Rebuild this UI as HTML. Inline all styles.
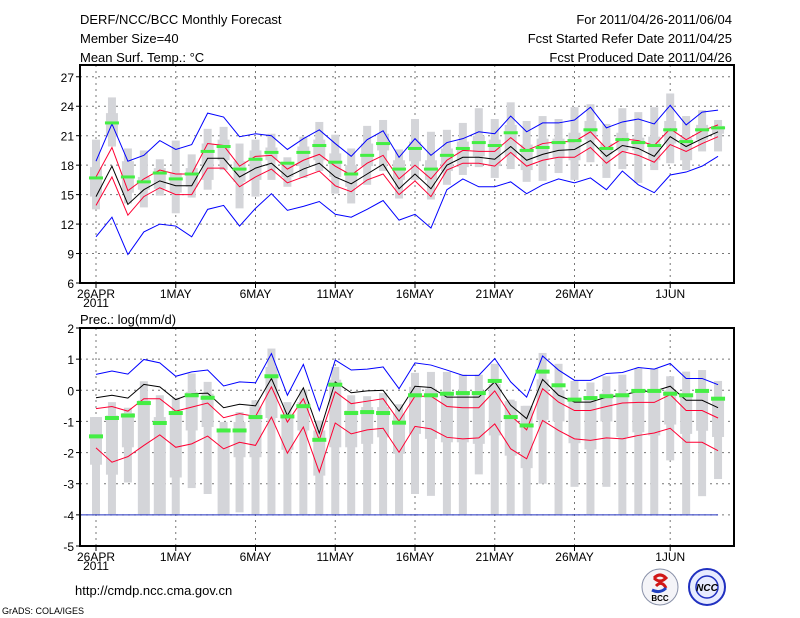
<!DOCTYPE html>
<html><head><meta charset="utf-8"><style>
html,body{margin:0;padding:0;background:#fff;width:800px;height:618px;overflow:hidden}
svg{display:block}
text{font-family:"Liberation Sans",sans-serif;fill:#000}
</style></head><body>
<svg id="chart" width="800" height="618" viewBox="0 0 800 618">
<text x="80" y="24" font-size="13">DERF/NCC/BCC Monthly Forecast</text>
<text x="80" y="43" font-size="13">Member Size=40</text>
<text x="80" y="62" font-size="13">Mean Surf. Temp.: °C</text>
<text x="732" y="24" font-size="13" text-anchor="end">For 2011/04/26-2011/06/04</text>
<text x="732" y="43" font-size="13" text-anchor="end">Fcst Started Refer Date 2011/04/25</text>
<text x="732" y="62" font-size="13" text-anchor="end">Fcst Produced Date 2011/04/26</text>
<text x="80" y="324" font-size="13">Prec.: log(mm/d)</text>
<text x="75" y="595" font-size="13">http://cmdp.ncc.cma.gov.cn</text>
<text x="2" y="614" font-size="9">GrADS: COLA/IGES</text>
<g>
<circle cx="660" cy="587" r="18" fill="#f4f4f8" stroke="#8890a8" stroke-width="1"/>
<path d="M654 578 q6 -6 12 0 q-6 6 -12 0 M656 586 q6 -6 10 2" fill="none" stroke="#d01818" stroke-width="3"/>
<path d="M652 590 q8 4 14 -2" fill="none" stroke="#2040c0" stroke-width="3"/>
<text x="660" y="601" font-size="8" text-anchor="middle" font-weight="bold" fill="#203080">BCC</text>
</g>
<g>
<circle cx="707" cy="587" r="18" fill="#e8ecff" stroke="#2030c0" stroke-width="2"/>
<circle cx="707" cy="587" r="11" fill="none" stroke="#2030c0" stroke-width="1.5"/>
<text x="707" y="591" font-size="10" text-anchor="middle" font-style="italic" font-weight="bold" fill="#1020b0">NCC</text>
</g>
<g id="top"></g>
<g id="bot"></g>
</svg>
<script>
const dayLabels = ["26APR","1MAY","6MAY","11MAY","16MAY","21MAY","26MAY","1JUN"];
const dayIdx = [0,5,10,15,20,25,30,36];
// Temperature
const tBlueHi=[18.4,22.2,18.4,19.0,20.5,19.6,20.1,23.3,22.9,20.9,21.2,21.0,19.6,20.7,21.6,20.2,18.9,20.6,21.5,18.8,20.7,19.0,20.3,20.7,21.4,21.2,23.0,21.4,22.3,22.3,22.6,23.9,21.8,22.4,22.7,22.2,24.1,22.1,23.4,23.6];
const tRedHi=[16.8,19.8,15.4,16.6,17.5,17.1,17.1,20.2,20.0,17.9,18.9,19.0,17.6,18.5,19.1,17.9,17.0,18.2,19.0,16.6,18.0,16.6,18.5,19.5,19.4,19.4,20.8,19.5,20.2,20.4,20.4,21.4,19.7,20.7,20.5,20.0,21.7,20.6,21.5,22.1];
const tMean=[14.8,17.9,14.0,15.5,16.4,15.9,15.9,18.7,18.7,16.8,17.7,18.2,16.8,17.6,18.2,16.8,16.1,17.1,18.1,15.6,17.1,15.6,18.0,18.8,18.8,18.6,19.9,18.5,19.1,19.5,19.6,20.5,18.9,20.0,19.7,18.9,20.9,19.9,20.7,21.4];
const tRedLo=[13.9,16.8,12.9,14.8,15.7,15.0,15.0,17.7,17.7,15.8,16.8,17.6,16.2,16.8,17.4,15.9,15.3,16.5,17.1,15.0,16.4,14.8,17.5,18.2,18.2,17.9,19.3,17.9,18.5,18.8,18.8,19.8,18.2,19.4,19.0,18.3,20.1,19.4,20.2,20.9];
const tBlueLo=[10.7,12.7,8.9,11.2,12.0,11.8,10.7,13.5,13.9,11.8,13.6,15.1,13.4,13.8,14.3,13.0,12.7,13.5,14.4,12.4,13.0,11.6,15.5,16.6,15.8,15.8,16.3,15.1,16.0,16.6,16.2,16.7,15.5,17.4,16.0,15.2,17.0,17.3,17.9,18.9];
const tObs=[16.7,22.3,16.8,16.3,17.2,16.6,17.1,19.4,19.9,17.6,18.6,19.3,18.2,19.3,20.0,18.3,17.1,19.0,20.2,17.6,19.7,17.6,19.0,19.7,20.3,20.0,21.3,19.5,19.8,20.3,20.5,21.6,19.7,20.6,20.3,20.0,21.6,20.4,21.6,21.8];
const tMin=[13.5,19.9,14.1,13.7,14.9,13.1,14.7,15.5,17.5,13.6,14.8,16.5,15.8,16.7,17.4,15.1,14.1,16.0,17.4,14.6,16.5,14.5,16.0,17.0,17.8,16.7,17.6,16.3,16.4,17.2,16.5,18.3,16.7,17.6,16.2,17.5,18.2,17.5,19.4,19.4];
const tQ1=[14.8,20.9,15.2,15.5,15.6,15.2,15.8,16.5,18.5,16.3,16.5,18.5,16.8,17.9,18.5,16.8,15.8,17.9,19.5,16.5,18.4,16.5,17.4,17.8,18.9,17.9,18.9,17.5,18.5,18.7,18.5,20.6,19.1,19.5,19.5,18.5,20.2,18.5,20.6,21.2];
const tQ3=[17.8,23.3,18.4,16.8,17.7,17.2,17.7,20.2,20.6,18.4,19.5,19.8,18.1,19.9,20.6,19.2,18.0,20.2,21.2,18.5,20.4,18.5,19.7,20.4,21.0,20.6,22.1,20.1,20.7,20.7,21.3,22.5,20.2,21.3,20.8,20.9,22.5,20.8,22.1,22.0];
const tMax=[20.6,24.9,19.7,19.5,18.6,20.5,19.1,21.7,21.9,20.2,20.6,21.2,18.8,20.9,22.4,21.1,19.7,22.0,22.6,19.6,22.7,21.4,21.6,22.3,23.8,22.7,24.4,22.5,23.0,22.7,23.9,24.2,22.2,23.8,23.4,23.9,25.3,23.0,23.6,22.6];
const tTicks=[6,9,12,15,18,21,24,27];
// Precipitation
const pBlueHi=[0.51,0.62,0.52,0.99,0.88,0.45,0.59,0.65,0.14,0.27,0.24,1.18,-0.16,0.83,-0.65,0.97,0.65,0.68,0.75,0.05,0.88,0.81,0.65,0.48,0.48,1.02,0.27,-0.22,1.1,0.65,0.32,0.32,0.54,0.57,0.73,0.68,0.86,0.38,0.38,0.18];
const pMean=[-0.24,-0.16,-0.25,0.19,0.11,-0.30,-0.11,-0.09,-0.56,-0.45,-0.5,0.38,-0.81,0.08,-1.38,0.27,-0.08,-0.02,0,-0.67,0.13,0.09,-0.22,-0.22,-0.22,0.27,-0.48,-0.91,0.35,-0.16,-0.38,-0.38,-0.22,-0.16,-0.03,-0.03,0.13,-0.32,-0.32,-0.56];
const pRedHi=[-0.59,-0.52,-0.67,-0.27,-0.27,-0.67,-0.54,-0.41,-0.88,-0.75,-0.84,0.11,-1.02,-0.27,-1.59,-0.05,-0.43,-0.35,-0.27,-0.99,-0.19,-0.19,-0.52,-0.56,-0.56,-0.02,-0.81,-1.27,0.05,-0.38,-0.65,-0.65,-0.52,-0.41,-0.39,-0.39,-0.14,-0.65,-0.65,-0.89];
const pRedLo=[-1.85,-2.31,-2.13,-1.77,-1.43,-1.83,-1.72,-1.47,-1.88,-1.67,-1.77,-0.86,-2.02,-1.18,-2.63,-1.05,-1.40,-1.27,-1.22,-1.99,-1.16,-1.24,-1.51,-1.56,-1.53,-1.08,-1.88,-2.2,-0.97,-1.29,-1.56,-1.61,-1.53,-1.56,-1.45,-1.37,-1.22,-1.67,-1.67,-1.94];
const pObs=[-1.48,-0.89,-0.81,-0.41,-1.05,-0.73,-0.16,-0.24,-1.29,-1.29,-0.86,0.45,-0.84,-0.51,-1.59,0.18,-0.73,-0.70,-0.73,-1.04,-0.16,-0.16,-0.11,-0.09,-0.09,0.3,-0.86,-1.13,0.6,0.16,-0.30,-0.25,-0.19,-0.16,-0.02,-0.02,-0.11,-0.16,-0.02,-0.27];
const pMin=[-3.98,-3.98,-2.96,-3.98,-3.98,-3.98,-3.14,-3.33,-3.98,-3.92,-3.98,-3.98,-3.98,-3.98,-3.98,-3.98,-3.98,-3.98,-3.98,-3.98,-3.33,-3.39,-3.98,-3.98,-2.7,-3.98,-3.98,-3.98,-3.0,-3.98,-3.1,-3.98,-3.1,-3.98,-3.98,-3.98,-2.25,-3.98,-3.4,-2.85];
const pQ1=[-2.39,-2.71,-1.83,-3.98,-3.98,-2.8,-1.29,-1.18,-3.98,-2.15,-2.15,-0.89,-1.91,-1.29,-2.74,-1.83,-1.83,-1.72,-1.51,-2.04,-1.40,-1.56,-1.67,-1.67,-1.72,-1.45,-2.1,-2.5,-0.95,-1.0,-1.7,-1.9,-1.0,-1.5,-1.35,-1.45,-1.1,-1.4,-1.3,-1.5];
const pQ3=[-0.86,-0.81,-0.73,-0.32,-0.86,-0.7,-0.05,-0.11,-1.29,-1.02,-0.52,0.75,-0.86,-0.38,-1.29,0.34,-0.65,-0.54,-0.54,-0.75,0.11,0.05,-0.1,-0.1,-0.1,0.2,-0.35,-0.5,0.35,0.0,-0.25,-0.25,-0.1,-0.1,0.0,0.0,0.0,-0.1,0.0,-0.25];
const pMax=[-0.86,-0.38,-0.56,0.29,-0.16,-0.24,0.54,0.27,-1.02,-0.7,-0.32,1.34,-0.38,0.02,-0.97,0.75,-0.16,-0.19,-0.09,-0.45,0.56,0.59,0.59,0.5,0.5,0.85,-0.3,-0.5,1.2,0.85,0.3,0.25,0.45,0.5,0.7,0.7,0.45,0.6,0.65,0.3];
const pTicks=[-5,-4,-3,-2,-1,0,1,2];
const pFloor=-4;

const NS="http://www.w3.org/2000/svg";
const X0=80,X1=734,x0day=96,dayW=15.95;
const xs=i=>x0day+i*dayW;
function mk(parent,tag,attrs){const e=document.createElementNS(NS,tag);for(const k in attrs)e.setAttribute(k,attrs[k]);parent.appendChild(e);return e;}

function panel(g,top,bot,vmin,vmax,ticks,S,pname){
  const ys=v=>bot-(v-vmin)/(vmax-vmin)*(bot-top);
  ticks.forEach(t=>{
    if(t>vmin&&t<vmax){const l=mk(g,'line',{x1:X0,x2:X1,y1:ys(t),y2:ys(t),stroke:'#777','stroke-dasharray':'2,4','stroke-width':1});
    
    }
    const tx=mk(g,'text',{x:74,y:ys(t)+5,'font-size':12,'text-anchor':'end'});tx.textContent=t;
    
    
    const tk=mk(g,'line',{x1:X0-4,x2:X0,y1:ys(t),y2:ys(t),stroke:'#000'});
    
    
  });
  dayIdx.forEach((d,j)=>{
    const x=xs(d);
    const l=mk(g,'line',{x1:x,x2:x,y1:top,y2:bot,stroke:'#777','stroke-dasharray':'2,4'});
    
    
    mk(g,'line',{x1:x,x2:x,y1:bot,y2:bot+5,stroke:'#000'});
    const tx=mk(g,'text',{x:x,y:bot+15,'font-size':12,'text-anchor':'middle'});tx.textContent=dayLabels[j];
    
    
  });
  const yr=mk(g,'text',{x:xs(0),y:bot+24,'font-size':12,'text-anchor':'middle'});yr.textContent='2011';
  
  
  for(let i=0;i<S.mn.length;i++){
    const x=xs(i);
    const w=mk(g,'rect',{x:x-4,y:ys(S.mx[i]),width:8,height:Math.max(1,ys(S.mn[i])-ys(S.mx[i])),fill:'#d4d5d9'});
    
    
    const b=mk(g,'rect',{x:x-6,y:ys(S.q3[i]),width:12,height:Math.max(1,ys(S.q1[i])-ys(S.q3[i])),fill:'#d4d5d9'});
    
    
  }
  if(S.floor!==undefined){
    const f=mk(g,'line',{x1:X0,x2:xs(S.mn.length-1),y1:ys(S.floor),y2:ys(S.floor),stroke:'#2030c0','stroke-width':1});
    
    
  }
  const line=(arr,col,nm)=>{
    const p=mk(g,'polyline',{points:arr.map((v,i)=>xs(i)+','+ys(v)).join(' '),fill:'none',stroke:col,'stroke-width':1});
    
    
  };
  line(S.bh,'#0000ff',pname+'-blue-upper-line');
  line(S.bl,'#0000ff',pname+'-blue-lower-line');
  line(S.rh,'#ff0033',pname+'-red-upper-line');
  line(S.rl,'#ff0033',pname+'-red-lower-line');
  line(S.m,'#000',pname+'-ensemble-mean-line');
  for(let i=0;i<S.o.length;i++){
    const r=mk(g,'rect',{x:xs(i)-7,y:ys(S.o[i])-S.oh/2,width:14,height:S.oh,fill:'#44ee44'});
    
    
  }
  const fr=mk(g,'rect',{x:X0,y:top,width:X1-X0,height:bot-top,fill:'none',stroke:'#000','stroke-width':2});
  
  
}
const gt=document.getElementById('top');


panel(gt,65,283,6,28.2,tTicks,{bh:tBlueHi,bl:tBlueLo,rh:tRedHi,rl:tRedLo,m:tMean,o:tObs,mn:tMin,q1:tQ1,q3:tQ3,mx:tMax,oh:3},'temp');
const gb=document.getElementById('bot');


panel(gb,328,546,-5,2,pTicks,{bh:pBlueHi,bl:[],rh:pRedHi,rl:pRedLo,m:pMean,o:pObs,mn:pMin,q1:pQ1,q3:pQ3,mx:pMax,oh:4,floor:pFloor},'precip');
</script>
</body></html>
